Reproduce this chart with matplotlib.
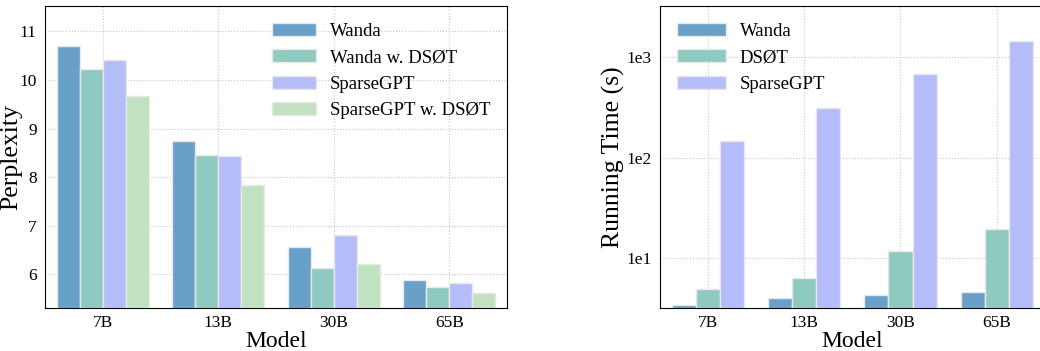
import matplotlib.pyplot as plt
import matplotlib.ticker as mticker
import numpy as np

plt.rcParams['font.family'] = ['Liberation Serif', 'DejaVu Serif']

models = ['7B', '13B', '30B', '65B']

# perplexity (left)
ppl_wanda = [10.69, 8.75, 6.56, 5.89]
ppl_wanda_dsot = [10.22, 8.46, 6.14, 5.75]
ppl_sparsegpt = [10.41, 8.44, 6.81, 5.83]
ppl_sparsegpt_dsot = [9.66, 7.83, 6.21, 5.62]

# running time in seconds (right)
time_wanda = [3.4, 4.0, 4.3, 4.6]
time_dsot = [5.0, 6.4, 11.8, 19.4]
time_sparsegpt = [146, 314, 678, 1462]

colors = ['#68a0c8', '#8ecac0', '#b4bdf9', '#c1e2c0']

fig = plt.figure(figsize=(10.4, 3.51), dpi=100)
ax1 = fig.add_axes([0.0433, 0.1225, 0.4442, 0.8605])
ax2 = fig.add_axes([0.6346, 0.1225, 0.370, 0.8605])

x = np.arange(len(models))

left_series = [ppl_wanda, ppl_wanda_dsot, ppl_sparsegpt, ppl_sparsegpt_dsot]
left_labels = ['Wanda', 'Wanda w. DSØT', 'SparseGPT', 'SparseGPT w. DSØT']
w = 0.2
for i, (vals, lab) in enumerate(zip(left_series, left_labels)):
    ax1.bar(x + (i - 1.5) * w, vals, w, color=colors[i], label=lab,
            edgecolor='#e8e8e8', linewidth=1.0, zorder=3)
ax1.set_ylim(5.31, 11.52)
ax1.set_xlim(-0.5, 3.5)
ax1.set_xticks(x)
ax1.set_xticklabels(models)
ax1.set_yticks([6, 7, 8, 9, 10, 11])
ax1.set_ylabel('Perplexity', fontsize=18.5)
ax1.yaxis.set_label_coords(-0.050, 0.5)
ax1.set_xlabel('Model', fontsize=17, labelpad=0)
ax1.grid(True, linestyle=':', color='#c8c8c8', linewidth=0.8, zorder=0)
ax1.tick_params(labelsize=12.5, length=0)
ax1.tick_params(axis='x', pad=5)
ax1.tick_params(axis='y', pad=6)
ax1.legend(loc='upper right', frameon=False, fontsize=13.5, handlelength=2.3,
           handleheight=0.7, labelspacing=0.5, handletextpad=0.75,
           borderaxespad=0.5)

right_series = [time_wanda, time_dsot, time_sparsegpt]
right_labels = ['Wanda', 'DSØT', 'SparseGPT']
w2 = 0.25
for i, (vals, lab) in enumerate(zip(right_series, right_labels)):
    ax2.bar(x + (i - 1) * w2, vals, w2, color=colors[i], label=lab,
            edgecolor='#e8e8e8', linewidth=1.0, zorder=3)
ax2.set_yscale('log')
ax2.set_ylim(3.2, 3240)
ax2.set_xlim(-0.5, 3.5)
ax2.set_xticks(x)
ax2.set_xticklabels(models)
ax2.set_yticks([10, 100, 1000])
ax2.yaxis.set_major_formatter(mticker.FixedFormatter(['1e1', '1e2', '1e3']))
ax2.yaxis.set_minor_locator(mticker.NullLocator())
ax2.set_ylabel('Running Time (s)', fontsize=18.5)
ax2.yaxis.set_label_coords(-0.09, 0.5)
ax2.set_xlabel('Model', fontsize=17, labelpad=0)
ax2.grid(True, linestyle=':', color='#c8c8c8', linewidth=0.8, zorder=0)
ax2.tick_params(labelsize=12.5, length=0)
ax2.tick_params(axis='x', pad=5)
ax2.tick_params(axis='y', pad=6)
ax2.legend(loc='upper left', frameon=False, fontsize=13.5, handlelength=2.6,
           handleheight=0.7, labelspacing=0.5, handletextpad=0.75,
           borderaxespad=0.5)

fig.savefig('out.png', dpi=100)
